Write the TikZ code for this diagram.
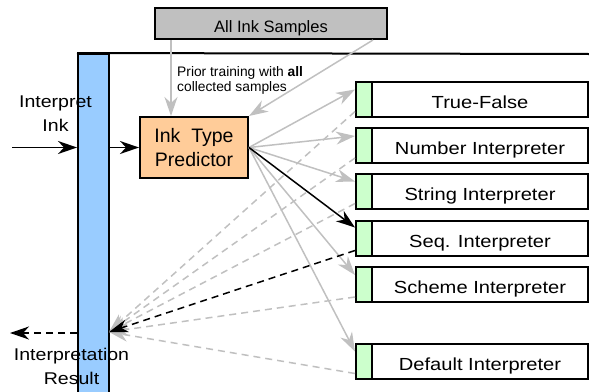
\documentclass[tikz,border=0pt]{standalone}
\usepackage{fontspec}
\setmainfont{Liberation Sans}
\newfontfamily\widefont[FakeStretch=1.15]{Liberation Sans}
\usetikzlibrary{arrows.meta,calc}
\definecolor{linegray}{HTML}{C0C0C0}
\definecolor{boxgray}{HTML}{C0C0C0}
\definecolor{barblue}{HTML}{99CCFF}
\definecolor{peach}{HTML}{FFCC99}
\definecolor{lgreen}{HTML}{CCFFCC}
\begin{document}
\begin{tikzpicture}[x=1pt,y=-1pt,
  frame/.style={draw=black, line width=2pt, inner sep=0pt},
  greenpart/.style={frame, fill=lgreen, minimum width=16pt, minimum height=35pt},
  whitepart/.style={frame, fill=white, minimum width=216pt, minimum height=35pt},
  tip/.style={-{Stealth[length=19pt,width=13pt,inset=6pt]}},
  fwd/.style={tip, draw=linegray, line width=1.5pt},
  back/.style={tip, draw=linegray, line width=1.5pt, dash pattern=on 7pt off 5pt},
  label/.style={inner sep=0pt, anchor=base},
  interp/.style={label, font=\widefont\fontsize{17.5}{20}\selectfont},
  side/.style={label, font=\widefont\fontsize{17}{20}\selectfont}
]
\useasboundingbox (0,0) rectangle (589,391);

% blue bar and top frame line
\node[frame, fill=barblue, minimum width=31pt, minimum height=346pt] (bar) at (93.5,227) {};
\coordinate (topR) at (589,54);
\draw[line width=2pt] (bar.north west) -- (topR);

% samples box
\node[frame, fill=boxgray, minimum width=232pt, minimum height=31pt] (samples) at (271,23.5) {};
\node[label, font=\fontsize{16.5}{20}\selectfont] (samplestxt) at (271,32.3) {All Ink Samples};

% predictor
\node[frame, fill=peach, minimum width=108pt, minimum height=61pt] (pred) at (194,147.5) {};
\node[label, font=\fontsize{19.5}{22}\selectfont] (predA) at (194,142) {Ink\ \ Type};
\node[label, font=\fontsize{19.5}{22}\selectfont] (predB) at (194,166) {Predictor};

% prior training text
\node[label, anchor=base west, font=\fontsize{13.8}{16}\selectfont] (priorA) at (177,76.3) {Prior training with \textbf{all}};
\node[label, anchor=base west, font=\fontsize{13.8}{16}\selectfont] (priorB) at (177,91.3) {collected samples};

% interpreters
\foreach \i/\c/\t in {1/99/True-False, 2/145.5/Number Interpreter, 3/191/String Interpreter,
                      4/238/Seq. Interpreter, 5/284.5/Scheme Interpreter, 6/361/Default Interpreter}{
  \node[greenpart] (g\i) at (364,\c) {};
  \node[whitepart] (w\i) at (480,\c) {};
  \node[interp] (t\i) at (480,\c+9) {\t};
}

% return point on the bar
\coordinate (ret) at (109,332);

% dashed returns
\foreach \i in {1,2,3,5,6}{
  \draw[back] ($(g\i.south west)+(0,-6)$) -- (ret);
}
% forward gray
\foreach \i in {1,2,3,5,6}{
  \draw[fwd] (pred.east) -- ($(g\i.north west)+(0,9)$);
}
% seq interpreter in black
\draw[tip, line width=1.5pt, dash pattern=on 7pt off 5pt] ($(g4.south west)+(0,-6)$) -- (ret);
\draw[tip, line width=1.5pt] (pred.east) -- ($(g4.north west)+(0,8)$);

% samples to predictor
\draw[fwd] ($(samples.south west)+(17,0)$) -- ($(pred.north west)+(32,0)$);
\draw[fwd] ($(samples.south east)+(-15,0)$) -- (pred.north east);

% input and output
\coordinate (inS) at (12,147.5);
\coordinate (res) at (10,333);
\draw[tip, line width=1.5pt] (inS) -- (inS -| bar.west);
\draw[tip, line width=1.5pt] (pred.west -| bar.east) -- (pred.west);
\draw[tip, line width=1.5pt, dash pattern=on 7pt off 5pt] (res -| bar.west) -- (res);

% side labels
\node[side] (lblA) at (55.5,107.3) {Interpret};
\node[side] (lblB) at (55.5,131.7) {Ink};
\node[side] (lblC) at (71.5,360.7) {Interpretation};
\node[side] (lblD) at (71.5,384) {Result};
\end{tikzpicture}
\end{document}
